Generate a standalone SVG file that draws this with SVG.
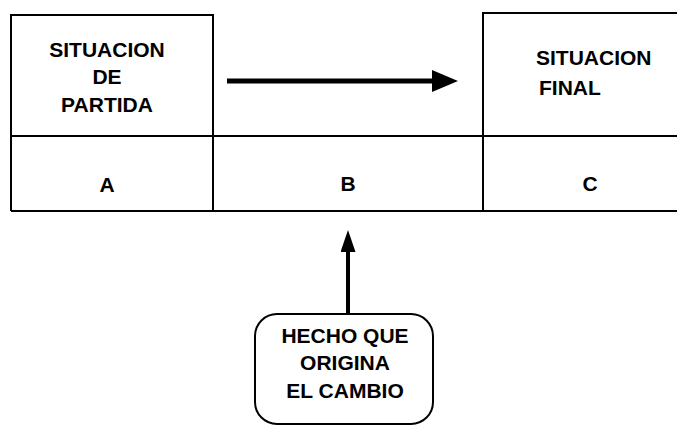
<svg xmlns="http://www.w3.org/2000/svg" width="677" height="425" viewBox="0 0 677 425">
<style>
.ln{stroke:#000;stroke-width:2;fill:none}
.t{font-family:"Liberation Sans",Arial,sans-serif;font-weight:bold;font-size:21px;fill:#000}
</style>
<defs>
<marker id="ah" viewBox="0 0 10 10" refX="0" refY="5" markerWidth="26" markerHeight="22" orient="auto" markerUnits="userSpaceOnUse" preserveAspectRatio="none">
<path d="M0,0 L10,5 L0,10 Z" fill="#000"/>
</marker>
<marker id="ah2" viewBox="0 0 10 10" refX="0" refY="5" markerWidth="22" markerHeight="15" orient="auto" markerUnits="userSpaceOnUse" preserveAspectRatio="none">
<path d="M0,0 L10,5 L0,10 Z" fill="#000"/>
</marker>
</defs>
<rect width="677" height="425" fill="#fff"/>
<g id="nodeA">
<path class="ln" d="M11,211 V15 H213 V211"/>
<text class="t" text-anchor="middle" x="107" y="57">SITUACION</text>
<text class="t" text-anchor="middle" x="107" y="84">DE</text>
<text class="t" text-anchor="middle" x="107" y="112">PARTIDA</text>
<text class="t" text-anchor="middle" x="107" y="192">A</text>
</g>
<g id="nodeB">
<text class="t" text-anchor="middle" x="348" y="191">B</text>
</g>
<g id="nodeC">
<path class="ln" d="M483,211 V13 H677"/>
<text class="t" x="536" y="65">SITUACION</text>
<text class="t" x="539" y="95">FINAL</text>
<text class="t" text-anchor="middle" x="590" y="191">C</text>
</g>
<g id="grid">
<line class="ln" x1="11" y1="136" x2="677" y2="136" stroke-width="2.5"/>
<line class="ln" x1="11" y1="211" x2="677" y2="211"/>
</g>
<g id="nodeD">
<rect class="ln" x="255" y="314" width="178" height="110" rx="22"/>
<text class="t" text-anchor="middle" x="345" y="343">HECHO QUE</text>
<text class="t" text-anchor="middle" x="345" y="370">ORIGINA</text>
<text class="t" text-anchor="middle" x="345" y="398">EL CAMBIO</text>
</g>
<g id="connectors">
<line x1="227" y1="81" x2="432" y2="81" stroke="#000" stroke-width="5" marker-end="url(#ah)"/>
<line x1="348" y1="314" x2="348" y2="252" stroke="#000" stroke-width="4" marker-end="url(#ah2)"/>
</g>
</svg>
